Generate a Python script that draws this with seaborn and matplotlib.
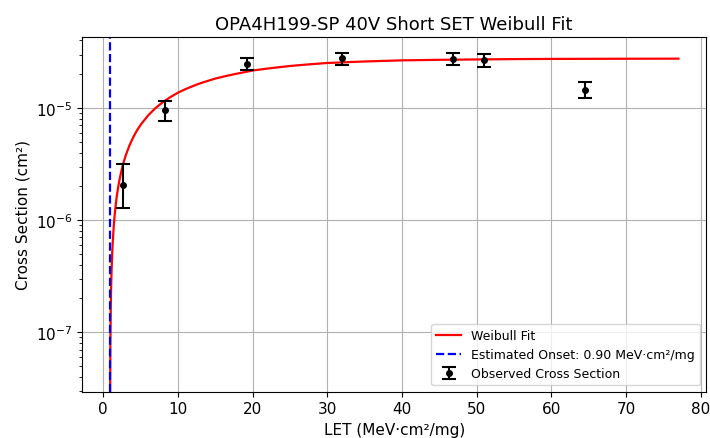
import matplotlib
matplotlib.use("Agg")
import matplotlib.pyplot as plt
import seaborn as sns
import pandas as pd

let_obs = [2.7, 8.3, 19.3, 32.0, 46.8, 51.0, 64.5]
xs_obs = [2.07e-6, 9.5e-6, 2.48e-5, 2.77e-5, 2.74e-5, 2.66e-5, 1.46e-5]
xs_err_low = [0.79e-6, 1.86e-6, 0.30e-5, 0.34e-5, 0.34e-5, 0.33e-5, 0.22e-5]
xs_err_high = [1.11e-6, 2.06e-6, 0.33e-5, 0.35e-5, 0.34e-5, 0.35e-5, 0.25e-5]

# Weibull fit curve
fit_let = [0.905, 0.92, 0.95, 1.0, 1.05, 1.1, 1.2, 1.25, 1.4, 1.5, 1.65, 1.8,
           2.0, 2.2, 2.45, 2.7, 3.0, 3.5, 4.0, 4.5, 5.0, 6.0, 7.0, 8.0, 9.0,
           10.0, 11.0, 12.5, 13.5, 15.0, 16.0, 17.5, 18.0, 20.0, 22.5, 25.0,
           27.5, 30.0, 32.5, 35.0, 37.5, 40.0, 45.0, 50.0, 55.0, 60.0, 65.0,
           70.0, 77.0]
fit_xs = [8.0e-9, 3.06e-8, 8.0e-8, 1.66e-7, 2.53e-7, 3.42e-7, 5.21e-7, 6.11e-7,
          8.84e-7, 1.07e-6, 1.342e-6, 1.62e-6, 1.98e-6, 2.34e-6, 2.80e-6,
          3.24e-6, 3.77e-6, 4.63e-6, 5.47e-6, 6.29e-6, 7.08e-6, 8.59e-6,
          1.0e-5, 1.131e-5, 1.253e-5, 1.37e-5, 1.473e-5, 1.618e-5, 1.705e-5,
          1.83e-5, 1.90e-5, 2.00e-5, 2.03e-5, 2.16e-5, 2.27e-5, 2.37e-5,
          2.45e-5, 2.52e-5, 2.56e-5, 2.60e-5, 2.63e-5, 2.66e-5, 2.69e-5,
          2.71e-5, 2.73e-5, 2.74e-5, 2.745e-5, 2.75e-5, 2.755e-5]

onset = 0.90

fig = plt.figure(figsize=(7.1, 4.39), dpi=100)
ax = fig.add_axes([0.1155, 0.1055, 0.8795, 0.808])

fit_df = pd.DataFrame({"LET": fit_let, "XS": fit_xs})
sns.lineplot(data=fit_df, x="LET", y="XS", color="red", linewidth=1.6,
             sort=False, estimator=None, label="Weibull Fit", ax=ax)
ax.axvline(onset, color="blue", linestyle="--", linewidth=1.6,
           label=f"Estimated Onset: {onset:.2f} MeV·cm²/mg")
ax.errorbar(let_obs, xs_obs, yerr=[xs_err_low, xs_err_high], fmt="o",
            color="black", markersize=4, capsize=5, elinewidth=1.5,
            capthick=1.5, label="Observed Cross Section")

ax.set_yscale("log")
ax.set_xlim(-2.85, 80.75)
ax.set_ylim(2.95e-8, 4.3e-5)
ax.grid(True, which="major", color="#b0b0b0", linewidth=0.8)
ax.set_axisbelow(True)

ax.set_title("OPA4H199-SP 40V Short SET Weibull Fit", fontsize=13)
ax.set_xlabel("LET (MeV·cm²/mg)", fontsize=11)
ax.set_ylabel("Cross Section (cm²)", fontsize=11)
ax.tick_params(labelsize=11)
ax.legend(loc="lower right", fontsize=9)

fig.savefig("out.png", dpi=100)
